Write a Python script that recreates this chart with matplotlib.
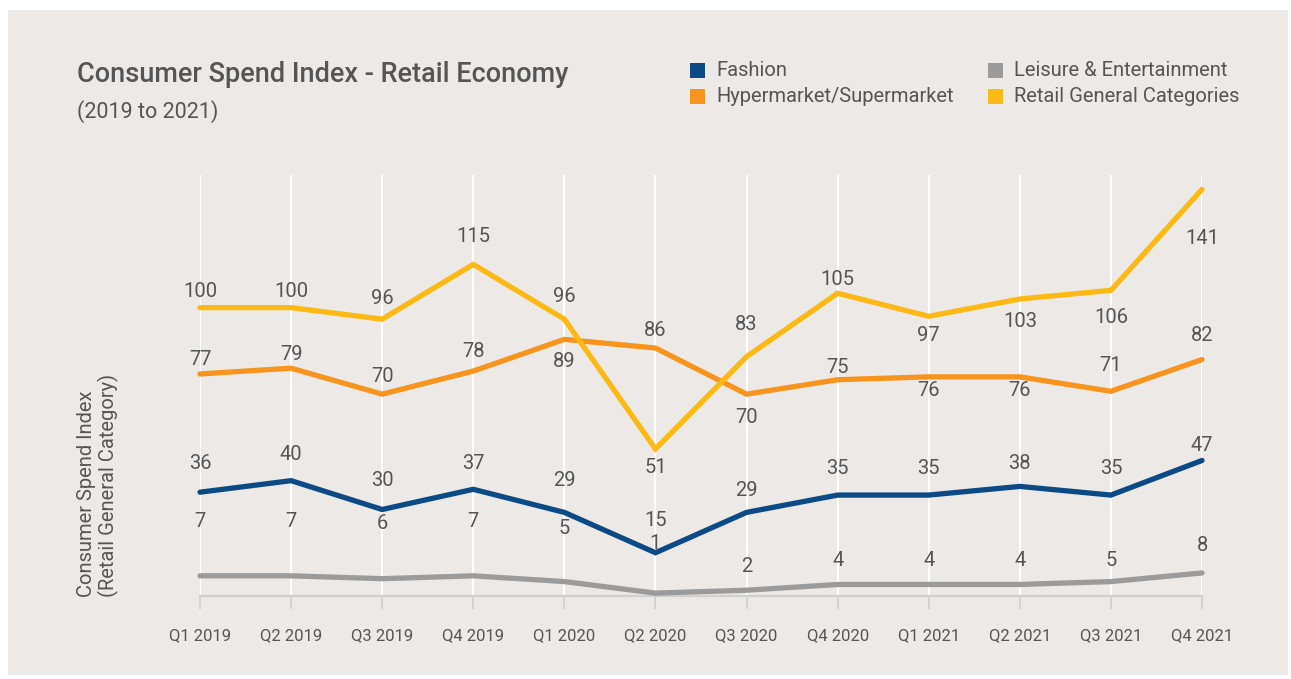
import matplotlib
matplotlib.use("Agg")
import matplotlib.pyplot as plt
from matplotlib.patches import Rectangle

# data
quarters = ["Q1 2019", "Q2 2019", "Q3 2019", "Q4 2019", "Q1 2020", "Q2 2020",
            "Q3 2020", "Q4 2020", "Q1 2021", "Q2 2021", "Q3 2021", "Q4 2021"]
fashion = [36, 40, 30, 37, 29, 15, 29, 35, 35, 38, 35, 47]
leisure = [7, 7, 6, 7, 5, 1, 2, 4, 4, 4, 5, 8]
hyper = [77, 79, 70, 78, 89, 86, 70, 75, 76, 76, 71, 82]
retail = [100, 100, 96, 115, 96, 51, 83, 105, 97, 103, 106, 141]

# label offsets in pixels (negative = above the line)
off_fashion = [-29, -26, -29, -26, -32, -32, -22, -27, -27, -23, -27, -15]
off_leisure = [-54, -54, -55, -54, -53, -50, -24, -24, -24, -24, -21, -27]
off_hyper = [-14, -14, -18, -20, 22, -18, 23, -12, 14, 14, -26, -24]
off_retail = [-16, -16, -21, -28, -23, 19, -32, -14, 19, 23, 27, 49]

bg = "#ECE9E6"
txt = "#555555"
c_fashion = "#0B4A85"
c_leisure = "#9B9B9B"
c_hyper = "#F7941D"
c_retail = "#FDB913"

plt.rcParams["font.family"] = ["Roboto", "DejaVu Sans"]

W, H = 1291, 679
fig = plt.figure(figsize=(W / 100, H / 100), dpi=100, facecolor="white")
fig.patches.append(Rectangle((8 / W, 4 / H), 1280 / W, 665 / H, transform=fig.transFigure,
                             facecolor=bg, edgecolor="none", zorder=-10))

ax = fig.add_axes([200 / W, 83 / H, 1002 / W, 421 / H])
ax.set_facecolor("none")
x = list(range(len(quarters)))

ax.set_xlim(0, 11)
ax.set_ylim(0, 146)
ax.set_xticks(x)
ax.set_xticklabels(quarters, fontsize=12, color=txt)
ax.set_yticks([])
ax.grid(axis="x", color="white", linewidth=1.5)
ax.set_axisbelow(True)
for s in ["left", "right", "top"]:
    ax.spines[s].set_visible(False)
ax.spines["bottom"].set_color("#CFCFCF")
ax.spines["bottom"].set_linewidth(1.6)
ax.tick_params(axis="x", length=9, width=1.2, color="#CFCFCF", pad=14)

series = [
    (leisure, c_leisure, off_leisure),
    (fashion, c_fashion, off_fashion),
    (hyper, c_hyper, off_hyper),
    (retail, c_retail, off_retail),
]
for vals, col, offs in series:
    ax.plot(x, vals, color=col, linewidth=3.8, solid_capstyle="round",
            solid_joinstyle="miter", clip_on=False, zorder=3)
    for xi, v, o in zip(x, vals, offs):
        ax.annotate(str(v), (xi, v), xytext=(0, -o), textcoords="offset pixels",
                    ha="center", va="center", fontsize=14.5, color=txt, zorder=4)

# titles
fig.text(77 / W, 1 - 75 / H, "Consumer Spend Index - Retail Economy", fontsize=19.5,
         fontweight="medium", color=txt, ha="left", va="center")
fig.text(77 / W, 1 - 112 / H, "(2019 to 2021)", fontsize=15.5, color=txt,
         ha="left", va="center")

# y label
fig.text(98 / W, 1 - 597 / H, "Consumer Spend Index\n(Retail General Category)",
         rotation=90, fontsize=14.5, color=txt, ha="center", va="bottom",
         multialignment="left", linespacing=1.15)

# legend
legend_items = [("Fashion", c_fashion, 690, 71), ("Hypermarket/Supermarket", c_hyper, 690, 97),
                ("Leisure & Entertainment", c_leisure, 988, 71),
                ("Retail General Categories", c_retail, 988, 97)]
for name, col, lx, ly in legend_items:
    fig.patches.append(Rectangle((lx / W, 1 - (ly + 7) / H), 15 / W, 15 / H,
                                 transform=fig.transFigure, facecolor=col, edgecolor="none"))
    fig.text((lx + 26) / W, 1 - ly / H, name, fontsize=14.5, color=txt, ha="left", va="center")

fig.savefig("out.png", dpi=100, facecolor="white")
